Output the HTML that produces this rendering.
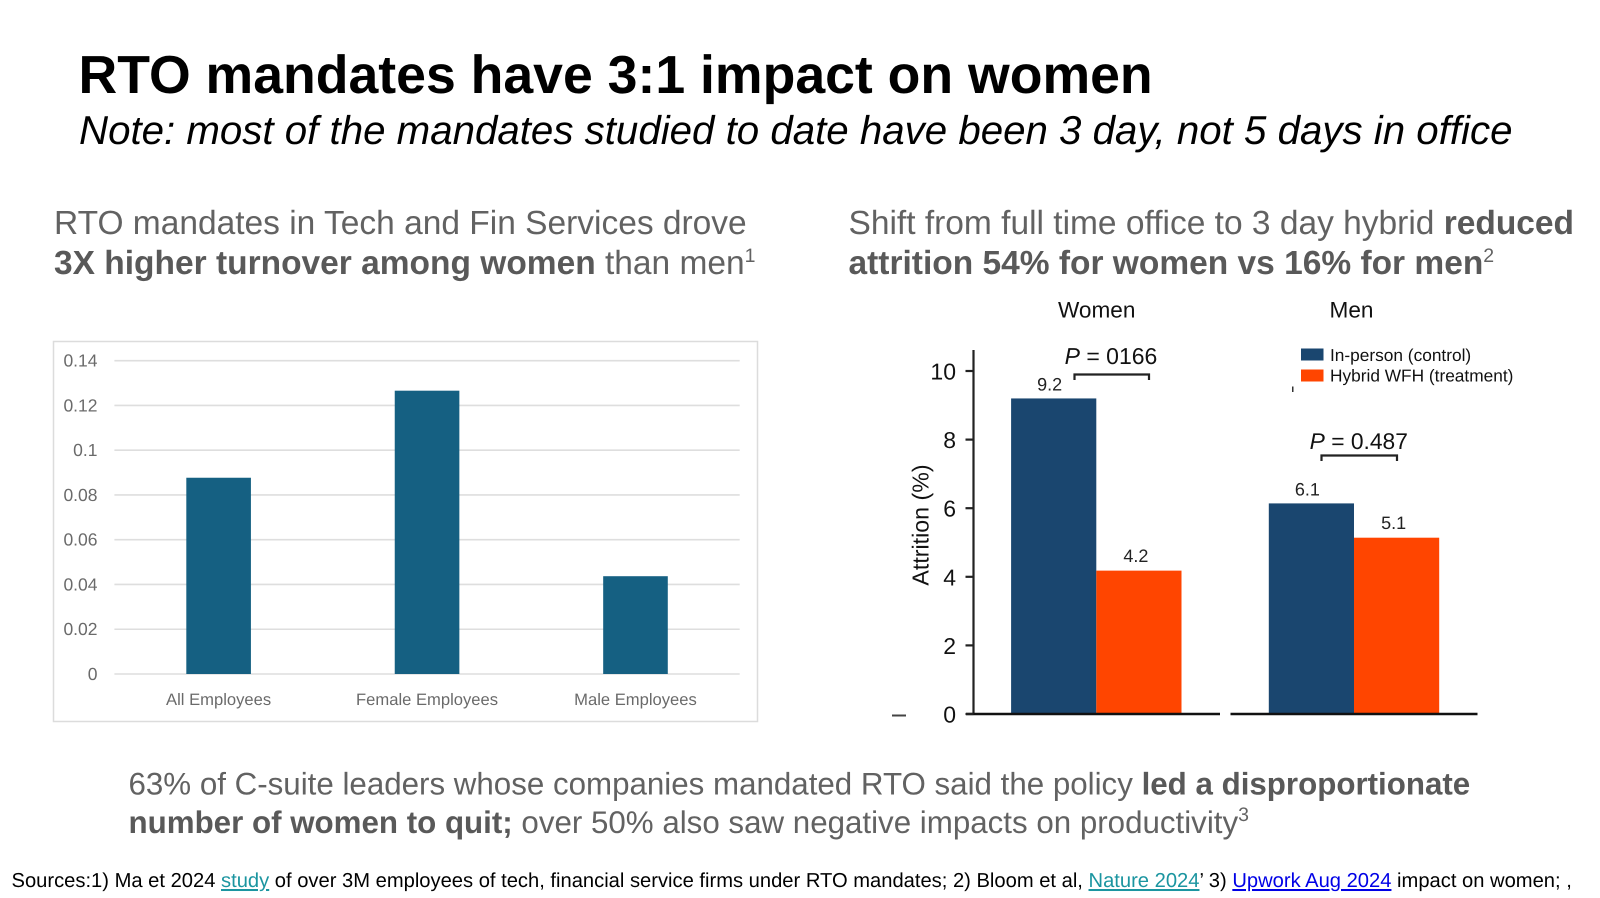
<!DOCTYPE html>
<html lang="en">
<head>
<meta charset="utf-8">
<title>RTO mandates have 3:1 impact on women</title>
<style>
html,body{margin:0;padding:0;background:#fff;width:1600px;height:898px;overflow:hidden}
svg{display:block;font-family:"Liberation Sans",Arial,sans-serif;text-rendering:geometricPrecision}
.head{font-size:33.5px;fill:#626262}
.body{font-size:31.3px;fill:#626262}
.head tspan.b,.body tspan.b{font-weight:700;fill:#595959}
.sup{font-size:19.5px}
.src{font-size:20.16px;fill:#000}
.lnk{text-decoration:underline}
.rt{fill:#111}
</style>
</head>
<body>
<svg id="slide" width="1600" height="898" viewBox="0 0 1600 898" xmlns="http://www.w3.org/2000/svg">
<rect width="1600" height="898" fill="#fff"/>
<text x="78.5" y="93" font-size="53.6" font-weight="700" fill="#000">RTO mandates have 3:1 impact on women</text>
<text x="79" y="144" font-size="40.26" font-style="italic" fill="#000">Note: most of the mandates studied to date have been 3 day, not 5 days in office</text>

<text class="head" x="54" y="234">RTO mandates in Tech and Fin Services drove</text>
<text class="head" x="54" y="274"><tspan class="b">3X higher turnover among women</tspan> than men<tspan class="sup" dy="-12">1</tspan></text>
<text class="head" x="848.5" y="234">Shift from full time office to 3 day hybrid <tspan class="b">reduced</tspan></text>
<text class="head" x="848.5" y="274"><tspan class="b">attrition 54% for women vs 16% for men</tspan><tspan class="sup" dy="-12">2</tspan></text>

<rect x="53.5" y="341.5" width="704" height="380" fill="#fff" stroke="#dcdcdc" stroke-width="1.5"/>
<g id="left-chart"></g>

<g id="right-chart"></g>
<text x="1096.7" y="317.500" text-anchor="middle" font-size="22.600" class="rt">Women</text>
<text x="1351.500" y="317.500" text-anchor="middle" font-size="22.600" class="rt">Men</text>
<text x="1111" y="364" text-anchor="middle" font-size="23" class="rt"><tspan font-style="italic">P</tspan> = 0166</text>
<path d="M1074.500 380V374.500H1149V380" fill="none" stroke="#222" stroke-width="2.200"/>
<text x="1358.800" y="449" text-anchor="middle" font-size="22.800" class="rt"><tspan font-style="italic">P</tspan> = 0.487</text>
<path d="M1321.500 461V455.500H1397V461" fill="none" stroke="#222" stroke-width="2.200"/>
<rect x="1301" y="348.500" width="22.500" height="12" fill="#1a466f"/>
<text x="1330" y="361" font-size="17.300" class="rt">In-person (control)</text>
<rect x="1301" y="369.500" width="22.500" height="12" fill="#ff4500"/>
<text x="1330" y="381.500" font-size="17.300" class="rt">Hybrid WFH (treatment)</text>
<rect x="1292" y="386.500" width="1.500" height="5.500" fill="#333"/>
<rect x="892" y="714.500" width="14" height="2" fill="#444"/>

<text class="body" x="128.500" y="794.500">63% of C-suite leaders whose companies mandated RTO said the policy <tspan class="b">led a disproportionate</tspan></text>
<text class="body" x="128.500" y="833"><tspan class="b">number of women to quit;</tspan> over 50% also saw negative impacts on productivity<tspan class="sup" dy="-12">3</tspan></text>

<text class="src" x="11.500" y="887">Sources:1) Ma et 2024 <tspan class="lnk" fill="#1b95a0">study</tspan> of over 3M employees of tech, financial service firms under RTO mandates; 2) Bloom et al, <tspan class="lnk" fill="#1b95a0">Nature 2024</tspan>’ 3) <tspan class="lnk" fill="#0000e6">Upwork Aug 2024</tspan> impact on women; ,</text>
</svg>

<script>
// Left chart data
const leftCategories = ['All Employees', 'Female Employees', 'Male Employees'];
const leftValues = [0.0877, 0.1266, 0.0437];
const leftTicks = [0, 0.02, 0.04, 0.06, 0.08, 0.1, 0.12, 0.14];

// Right chart data
const rightGroups = ['Women', 'Men'];
const inPersonValues = [9.2, 6.14];
const hybridValues = [4.18, 5.14];
const inPersonLabels = ['9.2', '6.1'];
const hybridLabels = ['4.2', '5.1'];
const rightTicks = [0, 2, 4, 6, 8, 10];

const NS = 'http://www.w3.org/2000/svg';
function mk(parent, tag, props, text) {
  const el = document.createElementNS(NS, tag);
  for (const k in props) el.setAttribute(k, props[k]);
  if (text !== undefined) el.textContent = text;
  parent.appendChild(el);
  return el;
}

// Left chart axes
const leftG = document.getElementById('left-chart');
const lx0 = 114.4, lx1 = 739.7, ly0 = 674, lyMax = 0.14, lyTop = 360.7;
const lBand = (lx1 - lx0) / leftCategories.length;
const lBarW = lBand * 0.31;
function lY(v) { return ly0 - (v / lyMax) * (ly0 - lyTop); }
function lX(i) { return lx0 + lBand * (i + 0.5); }

leftTicks.forEach(function (t) {
  const line = mk(leftG, 'line', { x1: lx0, x2: lx1, y1: lY(t), y2: lY(t), stroke: '#dedede', 'stroke-width': 1.6 });
  
  
  const lab = mk(leftG, 'text', { x: 97.5, y: lY(t) + 6, 'text-anchor': 'end', 'font-size': 17.5, fill: '#6a6a6a' }, String(t));
  
  
});
leftCategories.forEach(function (c, i) {
  const bar = mk(leftG, 'rect', { x: lX(i) - lBarW / 2, y: lY(leftValues[i]), width: lBarW, height: ly0 - lY(leftValues[i]), fill: '#156082' });
  
  
  const lab = mk(leftG, 'text', { x: lX(i), y: 705, 'text-anchor': 'middle', 'font-size': 16.6, fill: '#6a6a6a' }, c);
  
  
});

// Right chart axes
const rightG = document.getElementById('right-chart');
const ry0 = 714, ryUnit = 34.3, rBarW = 85.2;
function rY(v) { return ry0 - v * ryUnit; }
function rCenter(i) { return 1096.3 + i * 257.7; }

rightGroups.forEach(function (g, i) {
  const a = mk(rightG, 'rect', { x: rCenter(i) - rBarW, y: rY(inPersonValues[i]), width: rBarW, height: ry0 - rY(inPersonValues[i]), fill: '#1a466f' });
  
  
  const b = mk(rightG, 'rect', { x: rCenter(i), y: rY(hybridValues[i]), width: rBarW, height: ry0 - rY(hybridValues[i]), fill: '#ff4500' });
  
  
  const la = mk(rightG, 'text', { x: rCenter(i) - rBarW / 2 - 4, y: rY(inPersonValues[i]) - 8, 'text-anchor': 'middle', 'font-size': 18, fill: '#222' }, inPersonLabels[i]);
  
  
  const lb = mk(rightG, 'text', { x: rCenter(i) + rBarW / 2 - 3, y: rY(hybridValues[i]) - 8.5, 'text-anchor': 'middle', 'font-size': 18, fill: '#222' }, hybridLabels[i]);
  
  
});

const yAxis = mk(rightG, 'line', { x1: 973.5, x2: 973.5, y1: 350, y2: ry0 + 1, stroke: '#222', 'stroke-width': 2.2 });


const base1 = mk(rightG, 'line', { x1: 966, x2: 1220, y1: ry0, y2: ry0, stroke: '#111', 'stroke-width': 2.5 });


const base2 = mk(rightG, 'line', { x1: 1230.5, x2: 1477.5, y1: ry0, y2: ry0, stroke: '#111', 'stroke-width': 2.5 });



rightTicks.forEach(function (t) {
  const tick = mk(rightG, 'line', { x1: 965.5, x2: 973.5, y1: rY(t), y2: rY(t), stroke: '#222', 'stroke-width': 2.2 });
  
  
  const lab = mk(rightG, 'text', { x: 956, y: rY(t) + 8.5, 'text-anchor': 'end', 'font-size': 23, fill: '#111' }, String(t));
  
  
});
const yTitle = mk(rightG, 'text', { transform: 'translate(928.5 525) rotate(-90)', 'text-anchor': 'middle', 'font-size': 23.2, fill: '#111' }, 'Attrition (%)');


</script>
</body>
</html>
